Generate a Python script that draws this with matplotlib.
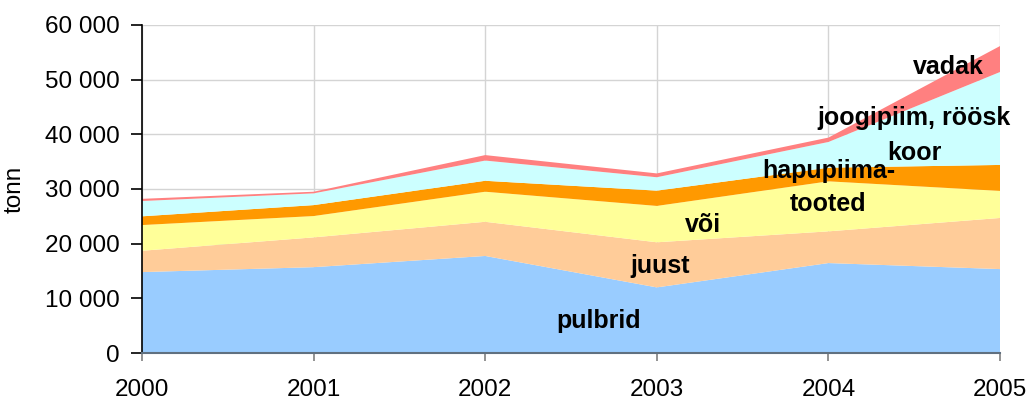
import matplotlib
matplotlib.use("Agg")
import matplotlib.pyplot as plt
import numpy as np

# ── Data (tonnes) ────────────────────────────────────────────────────────────
years = [2000, 2001, 2002, 2003, 2004, 2005]
pulbrid = [14800, 15700, 17750, 12000, 16450, 15350]
juust = [3900, 5450, 6250, 8250, 5800, 9350]
voi = [4700, 3900, 5500, 6650, 9150, 4950]
hapupiimatooted = [1600, 2000, 2000, 2800, 2500, 4750]
joogipiim = [2800, 2150, 3700, 2450, 4700, 17000]
vadak = [400, 300, 1000, 700, 800, 4750]

series = [pulbrid, juust, voi, hapupiimatooted, joogipiim, vadak]
colors = ["#99CCFF", "#FFCC99", "#FFFF99", "#FF9900", "#CCFFFF", "#FF8080"]
yticks = [0, 10000, 20000, 30000, 40000, 50000, 60000]
ytick_labels = ["0", "10 000", "20 000", "30 000", "40 000", "50 000", "60 000"]

# label text, x (year), y (tonnes)
labels = [
    ("vadak", 2004.7, 52300),
    ("joogipiim, röösk", 2004.5, 43000),
    ("koor", 2004.5, 36600),
    ("hapupiima-", 2004.0, 33300),
    ("tooted", 2004.0, 27300),
    ("või", 2003.27, 23500),
    ("juust", 2003.02, 15900),
    ("pulbrid", 2002.66, 5900),
]

plt.rcParams["font.family"] = ["Liberation Sans", "DejaVu Sans"]

fig = plt.figure(figsize=(10.28, 4.01), dpi=100)
ax = fig.add_axes([0.1381, 0.1197, 0.8347, 0.818])

ax.stackplot(years, *series, colors=colors, linewidth=0)

ax.set_xlim(2000, 2005)
ax.set_ylim(0, 60000)
ax.set_xticks(years)
ax.set_yticks(yticks)
ax.set_yticklabels(ytick_labels)
ax.tick_params(axis="both", labelsize=17.5, direction="out")
ax.tick_params(axis="y", length=8, width=1.2, pad=8)
ax.tick_params(axis="x", length=6, width=1.2, color="#808080", pad=13)
ax.set_ylabel("tonn", fontsize=17.5, labelpad=14)

ax.grid(True, color="#D4D4D4", linewidth=1.0)
ax.set_axisbelow(True)
for side in ("top", "right"):
    ax.spines[side].set_visible(False)
ax.spines["left"].set_linewidth(1.2)
ax.spines["bottom"].set_color("#607080")
ax.spines["bottom"].set_linewidth(1.5)

for text, x, y in labels:
    ax.text(x, y, text, fontsize=18, fontweight="bold", ha="center", va="center",
            color="black")

fig.savefig("out.png", dpi=100)
